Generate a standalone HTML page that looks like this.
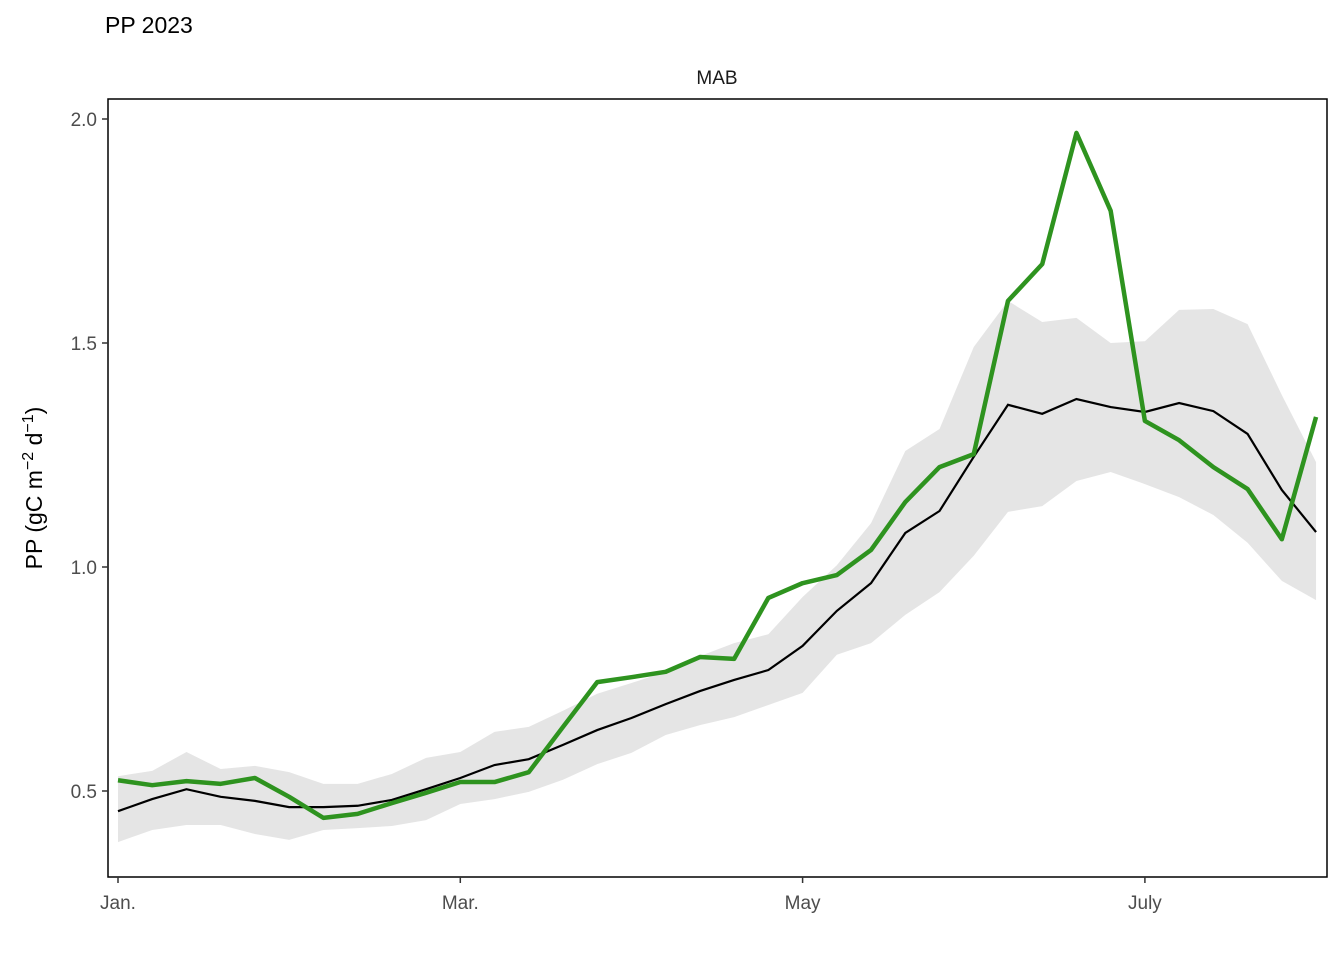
<!DOCTYPE html>
<html><head><meta charset="utf-8"><style>
body{margin:0;background:#fff;font-family:"Liberation Sans",Arial,sans-serif}
svg text{font-family:"Liberation Sans",Arial,sans-serif}
</style></head><body>
<svg id="chart" width="1344" height="960" xmlns="http://www.w3.org/2000/svg">
<text x="105" y="33" font-size="23" fill="#000">PP 2023</text>
<text x="717" y="84" font-size="19" text-anchor="middle" fill="#1a1a1a">MAB</text>
<g id="plot"></g>
<rect x="108" y="99" width="1219" height="778" fill="none" stroke="#000" stroke-width="1.5"/>
<text transform="translate(42,488) rotate(-90)" font-size="23" text-anchor="middle" fill="#000">PP (gC m<tspan dy="-9" font-size="16">−2</tspan><tspan dy="9"> d</tspan><tspan dy="-9" font-size="16">−1</tspan><tspan dy="9">)</tspan></text>
</svg>
<script>
const xTickLabels=["Jan.","Mar.","May","July"];
const xTickIdx=[0,10,20,30];
const yTicks=[0.5,1.0,1.5,2.0];
const yTickLabels=["0.5","1.0","1.5","2.0"];
const pp2023=[0.524,0.513,0.522,0.516,0.529,0.487,0.44,0.449,0.473,0.496,0.52,0.52,0.542,0.643,0.743,0.754,0.766,0.799,0.795,0.931,0.964,0.982,1.038,1.145,1.223,1.252,1.594,1.676,1.969,1.795,1.326,1.283,1.223,1.174,1.062,1.335];
const ppMean=[0.455,0.482,0.504,0.487,0.478,0.464,0.464,0.467,0.48,0.504,0.529,0.558,0.571,0.603,0.636,0.663,0.694,0.723,0.748,0.77,0.824,0.902,0.964,1.076,1.125,1.246,1.362,1.342,1.375,1.357,1.346,1.366,1.348,1.297,1.172,1.078];
const ppUpper=[0.533,0.545,0.587,0.549,0.556,0.542,0.516,0.516,0.538,0.574,0.587,0.632,0.643,0.679,0.717,0.741,0.766,0.801,0.83,0.85,0.933,1.004,1.098,1.259,1.308,1.491,1.594,1.547,1.556,1.5,1.504,1.574,1.576,1.542,1.384,1.234];
const ppLower=[0.386,0.413,0.424,0.424,0.404,0.391,0.413,0.417,0.422,0.435,0.471,0.482,0.498,0.525,0.56,0.585,0.625,0.647,0.665,0.692,0.719,0.804,0.83,0.893,0.944,1.025,1.123,1.136,1.192,1.212,1.185,1.156,1.116,1.054,0.969,0.926];
const X=i=>118+i*34.23;
const Y=v=>791-(v-0.5)*448;
const NS="http://www.w3.org/2000/svg";
const svg=document.getElementById('chart');
const g=document.getElementById('plot');
function mk(tag,attrs,parent){const e=document.createElementNS(NS,tag);for(const k in attrs)e.setAttribute(k,attrs[k]);(parent||g).appendChild(e);return e;}
let d=ppUpper.map((v,i)=>(i?'L':'M')+X(i)+','+Y(v)).join('');
for(let i=ppLower.length-1;i>=0;i--)d+='L'+X(i)+','+Y(ppLower[i]);
const band=mk('path',{d:d+'Z',fill:'#e5e5e5'});


const ml=mk('path',{d:ppMean.map((v,i)=>(i?'L':'M')+X(i)+','+Y(v)).join(''),fill:'none',stroke:'#000','stroke-width':2.2});


const gl=mk('path',{d:pp2023.map((v,i)=>(i?'L':'M')+X(i)+','+Y(v)).join(''),fill:'none',stroke:'#2e931f','stroke-width':4.5,'stroke-linejoin':'round'});


yTicks.forEach((v,i)=>{
 const t=mk('line',{x1:102,x2:108,y1:Y(v),y2:Y(v),stroke:'#333','stroke-width':1.5},svg);
 
 
 const l=mk('text',{x:97,y:Y(v)+7,'font-size':19,'text-anchor':'end',fill:'#4d4d4d'},svg);
 l.textContent=yTickLabels[i];
 
 
});
xTickIdx.forEach((v,i)=>{
 const t=mk('line',{x1:X(v),x2:X(v),y1:877,y2:883,stroke:'#333','stroke-width':1.5},svg);
 
 
 const l=mk('text',{x:X(v),y:909,'font-size':19,'text-anchor':'middle',fill:'#4d4d4d'},svg);
 l.textContent=xTickLabels[i];
 
 
});
</script>
</body></html>
